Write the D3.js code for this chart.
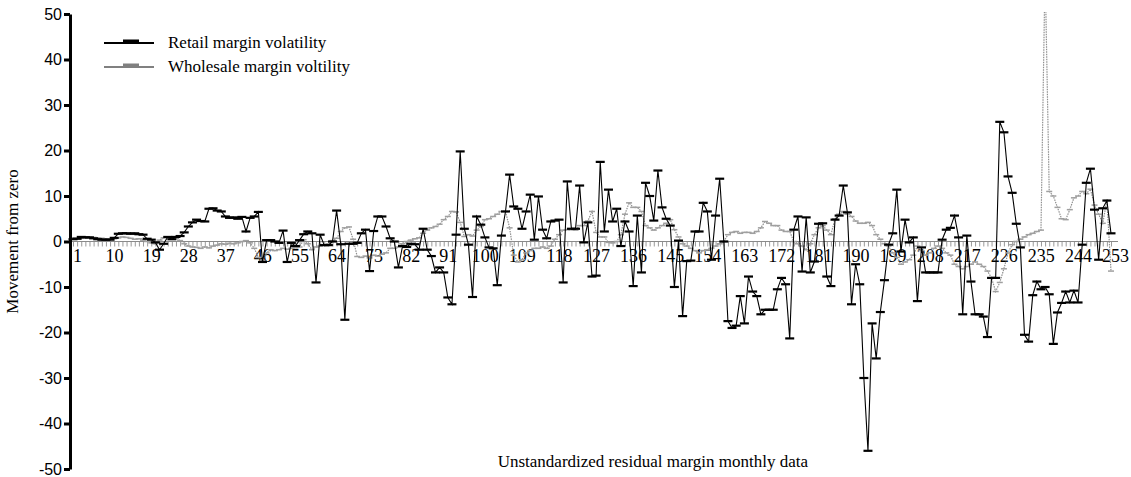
<!DOCTYPE html>
<html>
<head>
<meta charset="utf-8">
<script src="https://cdn.jsdelivr.net/npm/d3@7"></script>
<style>
  body { margin: 0; background: #fff; }
  svg { display: block; }
</style>
</head>
<body>
<div id="chart"></div>
<script>
// month index 1..253
var months = d3.range(1, 254);
var labelEvery = 9;
var yTicks = [-50, -40, -30, -20, -10, 0, 10, 20, 30, 40, 50];

var retail = [
  0.5, 0.6, 1, 0.9, 0.9, 0.7, 0.5, 0.4, 0.4, 0.4,
  0.8, 1.7, 1.8, 1.8, 1.7, 1.8, 1.6, 1.5, 0.6, 0.4,
  -0.2, -1.8, -0.5, 1, 0.5, 1, 1.2, 2, 3.3, 4.2,
  4.8, 4.5, 4.4, 7.2, 7.3, 6.8, 6.6, 5.5, 5.2, 5.3,
  5, 5.4, 2.2, 5.2, 5.5, 6.5, -4.5, 0.3, 0.3, 0,
  -0.3, 2.4, -4.5, -0.3, -1, 0.3, 1.6, 2.2, 1.8, -9,
  1.5, -0.8, -0.8, 0, 6.8, -0.6, -17.2, -0.5, -0.5, -0.3,
  1.8, 2.6, -6.5, 2.3, 5.5, 5.5, 3.3, 0.7, 0, -5.7,
  -1, -1.2, -0.5, -0.6, -1.8, 2.8, -1.8, -3.2, -6.8, -5.7,
  -6.8, -12.3, -13.8, 1.5, 19.8, 2.8, -0.7, -12.2, 5.5, 3.7,
  0.9, -1.3, -1.5, -9.6, 1.3, 6.6, 14.7, 7.7, 7.2, 2.8,
  6.6, 10.3, 0.4, 9.9, 2.6, 0.7, 4.4, 4.6, 4.8, -9,
  13.2, 2.8, 2.8, 12.3, -0.2, 4.2, -7.7, -7.5, 17.5, 2.2,
  11.4, 4.4, 7.2, -1, 4.4, 2.2, -9.8, 5.7, -6.8, 12.9,
  10, 4.6, 15.6, 7.5, 5, 3.5, -10, 0.2, -16.4, -4.3,
  -4.2, 2.2, 2.2, 8.5, 6.6, -4, 5.7, 13.8, 0, -17.5,
  -19, -18.5, -12, -18, -7.7, -11, -12, -16, -15, -15,
  -15, -10.5, -8, -9.4, -21.3, 2.6, 5.5, -6.6, 5.3, -6.8,
  -4.4, 3.9, 4, -7.7, -9.8, 4.8, 5.7, 12.3, 6.4, -13.8,
  -5, -9.4, -30, -46, -18, -25.7, -15.5, -8.5, -0.7, 1.8,
  11.4, -2.2, 4.8, -0.2, 0.9, -13.1, -1.3, -6.8, -6.8, -6.8,
  -6.8, 0.4, 2.6, 3, 5.7, 0.9, -16, 1.3, -8.8, -16,
  -16, -16.5, -21, -8, -8, 26.3, 24, 14.3, 10.7, 3.9,
  -1.3, -20.5, -22, -11.8, -8.8, -10.5, -10, -11.6, -22.5, -15.6,
  -13.5, -11, -13.4, -10.8, -13.4, -0.7, 12.9, 16, 7, -4,
  7.3, 9, 1.8
];

var wholesale = [
  0.8, 0.8, 0.7, 0.8, 1, 0.9, 0.8, 0.7, 0.6, 0.5,
  0.6, 0.8, 1, 0.9, 0.7, 0.5, 0.6, 0.3, 0, -0.3,
  -0.5, 0.3, 0.8, 1, 0.6, 0.7, 0.2, -0.5, -1, -1.2,
  -1.3, -1.5, -1.2, -1.4, -1, -0.8, -0.5, -0.6, -0.4, -0.5,
  -0.3, 0, 0.2, -0.3, -1.5, -3.5, -4.2, -2.5, -1.8, -2,
  -1.8, -1.5, -1.7, -1.5, -1.4, -1.2, 0.4, -0.5, -1.8, -1.2,
  -1, -0.8, -0.5, 0.2, 0.7, 2.2, 3, 3.2, 0.5, -3.3,
  -3.5, -3.2, -3.6, -3, -3.2, -2.8, -2.5, -1.5, -1.5, -1.2,
  -0.5, 0, 0.3, 0.6, 0.8, 1.8, 2.5, 3, 3.3, 3.8,
  4.8, 5.5, 6.6, 6.5, 4.2, 1.1, 1.5, 1.2, 2.5, 3.3,
  4.8, 5, 5.5, 6, 6.6, 6.6, 3, -3, -4.5, -4,
  -2.5, -2, -1.5, -1.5, -1.2, -1.5, -1, 0.5, 1.5, 2.5,
  2.6, 2.6, 2.5, 3.5, 3.5, 4.5, 6.6, 2, 1, 1,
  -0.2, -0.3, 0, 1.5, 6, 8.5, 7.5, 7.5, 6.6, 3.5,
  3, 2.5, 3, 3.5, 4, 4.8, 2.6, 1, -0.5, -1,
  -1.5, -2, -2.5, -2, -1.8, -1.5, -1, -0.5, 0, 1.5,
  2, 2.2, 1.8, 2, 2, 1.8, 2.2, 3, 4.4, 4,
  3.5, 3.5, 2.5, 2.2, 2.2, 0, -0.5, -1, -1.8, -0.5,
  1.5, 3, 3.5, 2.5, 1.5, 5, 6, 6.6, 6, 5.5,
  4.5, 4, 4, 4.2, 3.5, 1.5, 0.5, -0.5, -1, -2.5,
  -3.5, -5, -4.5, -4, -3, -1, -2, -3, -2.5, -1.5,
  -1, -1.5, -2.5, -3, -5, -5.5, -6, -5.5, -5, -4.5,
  -5, -5.5, -6.5, -8, -11, -9, -6, -2.5, -0.7, 0,
  0.5, 1, 1.5, 1.8, 2.2, 2.5, 60, 11, 10, 7.5,
  5, 4.8, 7, 9.6, 10, 11, 10.5, 11.5, 8, 6,
  4, 9, -6.5
];

var seriesNames = ['Retail margin volatility', 'Wholesale margin voltility'];

var width = 1131, height = 477;
var serif = '"Liberation Serif", "Times New Roman", serif';
var sans = '"Liberation Sans", Arial, sans-serif';

var svg = d3.select('#chart').append('svg')
  .attr('width', width)
  .attr('height', height);

var x = d3.scaleLinear().domain([1, 253]).range([73, 1111]);
var y = d3.scaleLinear().domain([-50, 50]).range([469, 14]);

svg.append('clipPath').attr('id', 'plot-clip')
  .append('rect')
  .attr('x', 60).attr('y', 12)
  .attr('width', width - 60).attr('height', height - 12);

// zero axis with a tick at every month
var xAxis = svg.append('g')
  .attr('transform', 'translate(0,' + y(0) + ')')
  .call(d3.axisBottom(x)
    .tickValues(months)
    .tickSize(5)
    .tickSizeOuter(0)
    .tickPadding(3)
    .tickFormat(function (d) {
      return (d - 1) % labelEvery === 0 ? d : '';
    }));

xAxis.select('.domain').remove();
xAxis.append('line')
  .attr('x1', 70).attr('x2', 1118)
  .attr('stroke', '#8a8a8a').attr('stroke-width', 1.2);
xAxis.selectAll('.tick line').attr('stroke', '#9a9a9a').attr('stroke-width', 1);
xAxis.selectAll('.tick text')
  .attr('x', 4)
  .attr('fill', '#000')
  .attr('font-family', serif)
  .attr('font-size', 18);

var line = d3.line()
  .x(function (d) { return x(d.i); })
  .y(function (d) { return y(d.v); });

function toPoints(values) {
  return values.map(function (v, k) {
    return {i: months[k], v: v};
  });
}

var plot = svg.append('g').attr('clip-path', 'url(#plot-clip)');

// wholesale first, retail on top
var wPoints = toPoints(wholesale);
plot.append('path')
  .datum(wPoints)
  .attr('fill', 'none')
  .attr('stroke', '#8f8f8f')
  .attr('stroke-width', 1.2)
  .attr('stroke-dasharray', '1.5,1')
  .attr('d', line);

plot.append('g')
  .selectAll('line')
  .data(wPoints)
  .enter().append('line')
  .attr('x1', function (d) { return x(d.i) - 3; })
  .attr('x2', function (d) { return x(d.i) + 3; })
  .attr('y1', function (d) { return y(d.v); })
  .attr('y2', function (d) { return y(d.v); })
  .attr('stroke', '#a0a0a0')
  .attr('stroke-width', 1.5);

var rPoints = toPoints(retail);
plot.append('path')
  .datum(rPoints)
  .attr('fill', 'none')
  .attr('stroke', '#000')
  .attr('stroke-width', 1.1)
  .attr('d', line);

plot.append('g')
  .selectAll('line')
  .data(rPoints)
  .enter().append('line')
  .attr('x1', function (d) { return x(d.i) - 4.5; })
  .attr('x2', function (d) { return x(d.i) + 4.5; })
  .attr('y1', function (d) { return y(d.v); })
  .attr('y2', function (d) { return y(d.v); })
  .attr('stroke', '#000')
  .attr('stroke-width', 2.2);

// y axis, plain hyphen for negatives as in the source
var yAxis = svg.append('g')
  .attr('transform', 'translate(70,0)')
  .call(d3.axisLeft(y)
    .tickValues(yTicks)
    .tickSize(6)
    .tickSizeOuter(0)
    .tickPadding(2)
    .tickFormat(function (d) { return String(d); }));

yAxis.select('.domain').attr('stroke', '#000').attr('stroke-width', 3);
yAxis.selectAll('.tick line').attr('stroke', '#000').attr('stroke-width', 3);
yAxis.selectAll('.tick text')
  .attr('fill', '#000')
  .attr('font-family', sans)
  .attr('font-size', 16);

svg.append('text')
  .attr('transform', 'translate(18,' + y(0) + ') rotate(-90)')
  .attr('text-anchor', 'middle')
  .attr('font-family', serif)
  .attr('font-size', 17)
  .text('Movement from zero');

svg.append('text')
  .attr('x', 808)
  .attr('y', 467)
  .attr('text-anchor', 'end')
  .attr('font-family', serif)
  .attr('font-size', 17)
  .text('Unstandardized residual margin monthly data');

// legend
var legendColors = ['#000', '#808080'];
var legend = svg.append('g')
  .selectAll('g')
  .data(seriesNames)
  .enter().append('g')
  .attr('transform', function (d, i) {
    return 'translate(104,' + (43 + i * 24) + ')';
  });

legend.append('line')
  .attr('x1', 0).attr('x2', 50)
  .attr('stroke', function (d, i) { return legendColors[i]; })
  .attr('stroke-width', 2.2);

legend.append('rect')
  .attr('x', 19).attr('y', -3.5)
  .attr('width', 16).attr('height', 4)
  .attr('fill', function (d, i) { return legendColors[i]; });

legend.append('text')
  .attr('x', 64)
  .attr('dy', '0.32em')
  .attr('font-family', serif)
  .attr('font-size', 17)
  .text(function (d) { return d; });
</script>
</body>
</html>
